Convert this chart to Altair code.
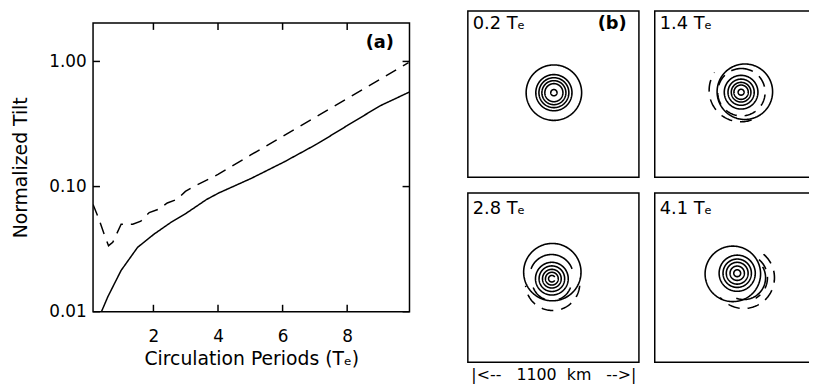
import altair as alt
import pandas as pd

FONT = "DejaVu Sans"

# ---------------- panel (a): normalized tilt vs circulation periods
T_SOLID = [0.39, 0.59, 1.00, 1.51, 2.02, 2.53, 3.04, 3.65, 4.02, 5.04, 6.06, 7.08, 8.00, 9.02, 9.93]
TILT_SOLID = [0.0100, 0.0132, 0.0214, 0.0327, 0.0417, 0.0515, 0.0618, 0.0790, 0.0888,
              0.1166, 0.158, 0.220, 0.307, 0.442, 0.570]

T_DASHED = [0.13, 0.30, 0.49, 0.61, 0.74, 1.00, 1.36, 1.61, 1.87, 2.17, 2.43, 2.73,
            2.99, 3.25, 4.0, 5.0, 6.0, 7.0, 8.0, 9.0, 9.9]
TILT_DASHED = [0.072, 0.056, 0.0405, 0.0337, 0.0358, 0.050, 0.050, 0.053, 0.062, 0.066,
               0.074, 0.079, 0.0916, 0.100, 0.125, 0.178, 0.252, 0.357, 0.505, 0.715, 0.98]

X_TICKS = [2, 4, 6, 8]
Y_TICKS = [0.01, 0.1, 1.0]

# ---------------- panel (b): contours (centre x, centre y, radius in km; arc start/end deg; sign)
B1 = [(2, 0, 178, 0, 360, "pos"), (2, 0, 116, 0, 360, "pos"), (2, 0, 96, 0, 360, "pos"),
      (2, 0, 77, 0, 360, "pos"), (2, 0, 58, 0, 360, "pos"), (2, 0, 20, 0, 360, "pos")]
B2 = [(28, 6, 178, 0, 360, "pos"), (4, 3, 108, 0, 360, "pos"), (4, 3, 84, 0, 360, "pos"),
      (4, 3, 63, 0, 360, "pos"), (4, 3, 46, 0, 360, "pos"), (4, 3, 19, 0, 360, "pos"),
      (6, 3, 152, 0, 360, "neg"), (2, 16, 203, 160, 305, "neg")]
B3 = [(-8, 35, 184, 0, 360, "pos"), (-13, 8, 140, 290, 430, "pos"),
      (-11, -7, 105, 0, 360, "pos"), (-11, -7, 82, 0, 360, "pos"), (-11, -7, 60, 0, 360, "pos"),
      (-11, -7, 41, 0, 360, "pos"), (-11, -7, 21, 120, 420, "pos"),
      (-11, -20, 127, 200, 250, "pos"), (-11, -20, 127, 110, 160, "pos"),
      (-6, -37, 174, 95, 265, "neg")]
B4 = [(-49, 24, 178, 0, 360, "pos"), (-21, 28, 116, 0, 360, "pos"), (-21, 28, 91, 0, 360, "pos"),
      (-21, 28, 70, 0, 360, "pos"), (-21, 28, 46, 0, 360, "pos"), (-21, 28, 22, 0, 360, "pos"),
      (21, -1, 140, 60, 200, "pos"), (21, -1, 197, 40, 230, "neg"), (21, -1, 152, 40, 150, "neg")]
B_LABELS = ["0.2 T\u2091", "1.4 T\u2091", "2.8 T\u2091", "4.1 T\u2091"]
KM_LABEL = "|<--\u00a0\u00a0\u00a01100\u00a0\u00a0km\u00a0\u00a0\u00a0-->|"

KM_PER_PX = 1100 / 173.4
HALF_H_KM = 85.5 * KM_PER_PX

# ---------------- panel (a) chart
W_A, H_A = 320, 292
df_a = pd.DataFrame({
    "t": T_SOLID + T_DASHED,
    "tilt": TILT_SOLID + TILT_DASHED,
    "series": ["solid"] * len(T_SOLID) + ["dashed"] * len(T_DASHED),
})
xs = alt.Scale(domain=[0.13, 9.93], nice=False, zero=False)
ys = alt.Scale(type="log", domain=[0.01, 2.03], nice=False)
x_axis = alt.Axis(values=X_TICKS, format="d", title="Circulation Periods (T\u2091)", ticks=False,
                  tickSize=0, domain=False, grid=False, labelPadding=17, titlePadding=5,
                  labelFontSize=17, titleFontSize=19)
y_axis = alt.Axis(values=Y_TICKS, format=".2f", title="Normalized Tilt", ticks=False,
                  tickSize=0, domain=False, grid=False, labelPadding=7, titlePadding=18,
                  labelFontSize=17, titleFontSize=19)

lines = alt.Chart(df_a).mark_line(color="black", strokeWidth=1.5, clip=True).encode(
    x=alt.X("t:Q", scale=xs, axis=x_axis),
    y=alt.Y("tilt:Q", scale=ys, axis=y_axis),
    strokeDash=alt.StrokeDash("series:N", scale=alt.Scale(domain=["solid", "dashed"],
                              range=[[1, 0], [12, 8]]), legend=None),
)
xt = pd.DataFrame({"t": X_TICKS})
yt = pd.DataFrame({"tilt": Y_TICKS})
tick_b = alt.Chart(xt).mark_rule(color="black", strokeWidth=1.5).encode(
    x=alt.X("t:Q", scale=xs, axis=x_axis), y=alt.value(H_A), y2=alt.value(H_A - 7))
tick_t = alt.Chart(xt).mark_rule(color="black", strokeWidth=1.5).encode(
    x=alt.X("t:Q", scale=xs, axis=x_axis), y=alt.value(0), y2=alt.value(7))
tick_l = alt.Chart(yt).mark_rule(color="black", strokeWidth=1.5).encode(
    y=alt.Y("tilt:Q", scale=ys, axis=y_axis), x=alt.value(0), x2=alt.value(7))
tick_r = alt.Chart(yt).mark_rule(color="black", strokeWidth=1.5).encode(
    y=alt.Y("tilt:Q", scale=ys, axis=y_axis), x=alt.value(W_A), x2=alt.value(W_A - 7))
lab_a = alt.Chart(pd.DataFrame({"s": ["(a)"]})).mark_text(
    fontSize=18, fontWeight="bold", font=FONT, color="black", align="center", baseline="middle"
).encode(text="s:N", x=alt.value(290), y=alt.value(20))

panel_a = alt.layer(lines, tick_b, tick_t, tick_l, tick_r, lab_a).properties(
    width=W_A, height=H_A,
    view=alt.ViewBackground(stroke="black", strokeWidth=1.5),
)
# empty strip above (a): the frame of (a) starts lower than the panels of (b)
strip = alt.Chart(pd.DataFrame({"s": [0]})).mark_rule(strokeWidth=0, opacity=0).encode(
    x=alt.value(0), x2=alt.value(10), y=alt.value(1)
).properties(width=W_A, height=1, view=alt.ViewBackground(stroke="transparent"))
col_a = alt.vconcat(strip, panel_a, spacing=8)


def b_panel(rows, label, width, height, label_y, hide_right=False, km_title=False, show_b=False):
    df = pd.DataFrame(rows, columns=["cx", "cy", "r", "t0", "t1", "sign"])
    df["cid"] = list(range(len(df)))
    xdom = [-550, -550 + width * KM_PER_PX]
    ydom = [-HALF_H_KM, -HALF_H_KM + height * KM_PER_PX]
    if km_title:
        xax = alt.Axis(title=KM_LABEL, labels=False, ticks=False, domain=False,
                       grid=False, titleFontSize=16, titlePadding=5)
    else:
        xax = None
    base = alt.Chart(df).transform_calculate(
        angs="sequence(datum.t0, datum.t1 + 1, 2)"
    ).transform_flatten(["angs"], as_=["ang"]).transform_calculate(
        px="datum.cx + datum.r * sin(datum.ang * PI / 180)",
        py="datum.cy + datum.r * cos(datum.ang * PI / 180)",
    )
    contour = base.mark_line(color="black", strokeWidth=1.6, clip=True).encode(
        x=alt.X("px:Q", scale=alt.Scale(domain=xdom, nice=False, zero=False), axis=xax),
        y=alt.Y("py:Q", scale=alt.Scale(domain=ydom, nice=False, zero=False), axis=None),
        detail="cid:N",
        order="ang:Q",
        strokeDash=alt.StrokeDash("sign:N", scale=alt.Scale(domain=["pos", "neg"],
                                  range=[[1, 0], [7, 6]]), legend=None),
    )
    lab = alt.Chart(pd.DataFrame({"s": [label]})).mark_text(
        fontSize=18, font=FONT, color="black", align="left", baseline="top"
    ).encode(text="s:N", x=alt.value(5), y=alt.value(label_y))
    layers = [contour, lab]
    if show_b:
        layers.append(alt.Chart(pd.DataFrame({"s": ["(b)"]})).mark_text(
            fontSize=18, fontWeight="bold", font=FONT, color="black", align="center",
            baseline="top").encode(text="s:N", x=alt.value(146), y=alt.value(label_y)))
    if hide_right:
        view = alt.ViewBackground(stroke="black", strokeWidth=1.5,
                                  strokeDash=[width, height, width + height])
    else:
        view = alt.ViewBackground(stroke="black", strokeWidth=1.5)
    return alt.layer(*layers).properties(width=width, height=height, view=view)


b1 = b_panel(B1, B_LABELS[0], 173, 168, 4, show_b=True)
b2 = b_panel(B2, B_LABELS[1], 156, 168, 4, hide_right=True)
b3 = b_panel(B3, B_LABELS[2], 173, 171, 7, km_title=True)
b4 = b_panel(B4, B_LABELS[3], 156, 171, 7, hide_right=True)

bgrid = alt.vconcat(alt.hconcat(b1, b2, spacing=14), alt.hconcat(b3, b4, spacing=14), spacing=14)

chart = alt.hconcat(col_a, bgrid, spacing=56).properties(
    padding={"left": 3, "top": 0, "right": 0, "bottom": 0}
).configure(
    font=FONT
).configure_view(stroke="transparent").configure_axis(
    labelColor="black", titleColor="black", titleFontWeight="normal", labelFont=FONT, titleFont=FONT
).configure_title(font=FONT)

chart.save("out.html", embed_options={"renderer": "svg", "actions": False})
